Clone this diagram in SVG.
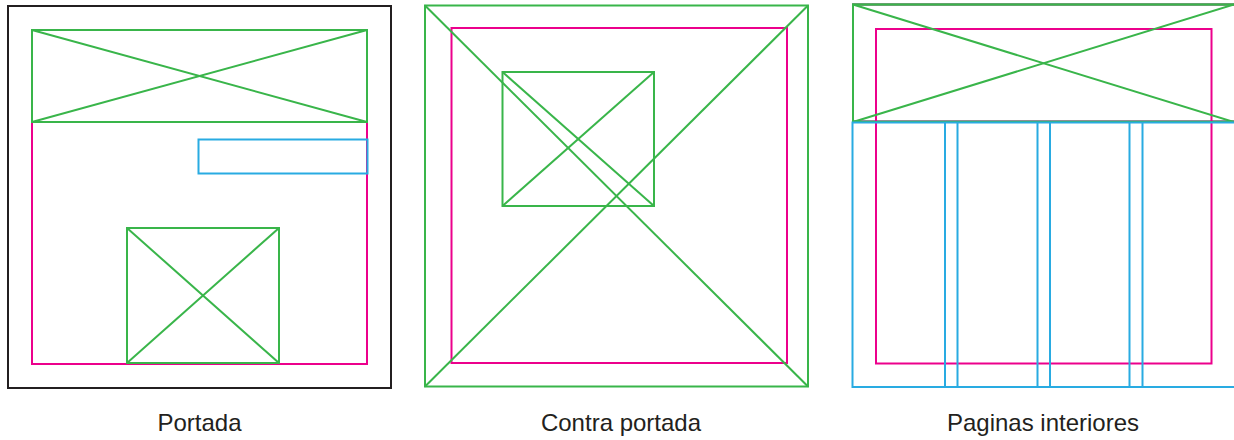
<svg xmlns="http://www.w3.org/2000/svg" width="1234" height="440" viewBox="0 0 1234 440">
<style>
.k{fill:none;stroke:#231f20;stroke-width:2}
.g{fill:none;stroke:#39b54a;stroke-width:2}
.p{fill:none;stroke:#ec008c;stroke-width:2}
.b{fill:none;stroke:#29abe2;stroke-width:2}
.t{font-family:"Liberation Sans",Arial,sans-serif;font-size:24px;fill:#231f20;text-anchor:middle}
</style>
<rect width="1234" height="440" fill="#fff"/>
<g id="portada">
<rect class="k" x="8" y="6" width="383" height="382"/>
<rect class="p" x="32" y="30" width="335" height="334"/>
<rect class="g" x="32" y="30" width="335" height="92"/>
<line class="g" x1="32" y1="30" x2="367" y2="122"/>
<line class="g" x1="32" y1="122" x2="367" y2="30"/>
<rect class="b" x="198.5" y="139.5" width="169" height="34"/>
<rect class="g" x="127" y="228" width="152" height="135"/>
<line class="g" x1="127" y1="228" x2="279" y2="363"/>
<line class="g" x1="127" y1="363" x2="279" y2="228"/>
<text class="t" x="199.5" y="431">Portada</text>
</g>
<g id="contraportada">
<rect class="p" x="451.5" y="28" width="335.5" height="335"/>
<rect class="g" x="425" y="5.5" width="383" height="381"/>
<line class="g" x1="425" y1="5.5" x2="808" y2="386.5"/>
<line class="g" x1="425" y1="386.5" x2="808" y2="5.5"/>
<rect class="g" x="502.5" y="72" width="151.5" height="134"/>
<line class="g" x1="502.5" y1="72" x2="654" y2="206"/>
<line class="g" x1="502.5" y1="206" x2="654" y2="72"/>
<text class="t" x="621" y="431">Contra portada</text>
</g>
<g id="interiores">
<rect class="k" x="853" y="4.5" width="390" height="117"/>
<rect class="p" x="876" y="29" width="335.5" height="334.5"/>
<rect class="g" x="853" y="4.5" width="390" height="117.5"/>
<line class="g" x1="853" y1="4.5" x2="1234" y2="122"/>
<line class="g" x1="853" y1="122" x2="1234" y2="4.5"/>
<rect class="b" x="852.5" y="122.5" width="392" height="264.5"/>
<line class="b" x1="945" y1="122" x2="945" y2="387"/>
<line class="b" x1="957.5" y1="122" x2="957.5" y2="387"/>
<line class="b" x1="1037.5" y1="122" x2="1037.5" y2="387"/>
<line class="b" x1="1050" y1="122" x2="1050" y2="387"/>
<line class="b" x1="1129.5" y1="122" x2="1129.5" y2="387"/>
<line class="b" x1="1142.5" y1="122" x2="1142.5" y2="387"/>
<text class="t" x="1043" y="431">Paginas interiores</text>
</g>
</svg>
